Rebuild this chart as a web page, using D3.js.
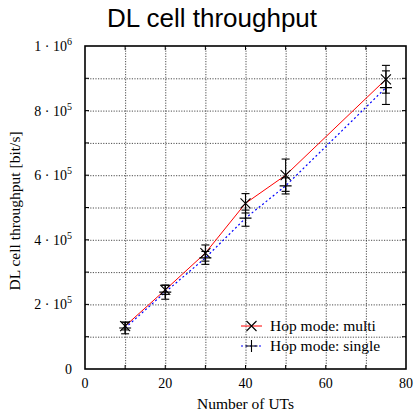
<!DOCTYPE html>
<html>
<head>
<meta charset="utf-8">
<script src="https://cdn.jsdelivr.net/npm/d3@7"></script>
<style>
  body { margin: 0; background: #fff; }
  svg { display: block; }
  .grid line { stroke: #000; stroke-width: 0.7; stroke-dasharray: 1.2 1.4; }
  .grid path { display: none; }
  text { fill: #000; }
</style>
</head>
<body>
<svg></svg>
<script>
// Data
const users = [10, 20, 30, 40, 50, 75];
const multiMean = [133000, 245000, 359000, 513000, 600000, 897000];
const multiErr = [12000, 14000, 25000, 30000, 50000, 43000];
const singleMean = [127000, 238000, 344000, 467000, 567000, 871000];
const singleErr = [18000, 22000, 20000, 25000, 25000, 52000];
const xTicks = [0, 20, 40, 60, 80];
const yTicks = [0, 200000, 400000, 600000, 800000, 1000000];

// Sizes
const W = 416, H = 413;
const margin = { t: 46, b: 44, l: 85, r: 10 };
const width = W - margin.l - margin.r;
const height = H - margin.t - margin.b;

const svg = d3.select("svg")
  .attr("width", W)
  .attr("height", H);

const g = svg.append("g")
  .attr("transform", `translate(${margin.l}, ${margin.t})`);

// Scales
const xScale = d3.scaleLinear().domain([0, 80]).range([0, width]);
const yScale = d3.scaleLinear().domain([0, 1000000]).range([height, 0]);

// Grids
g.append("g")
  .attr("class", "grid")
  .attr("transform", `translate(0, ${height})`)
  .call(d3.axisBottom(xScale).tickValues(d3.range(10, 80, 10)).tickSize(-height).tickFormat(""));

g.append("g")
  .attr("class", "grid")
  .call(d3.axisLeft(yScale).tickValues(d3.range(100000, 1000000, 100000)).tickSize(-width).tickFormat(""));

// Tick marks (inward, mirrored)
const tickLen = 4;
const frameTicks = g.append("g").attr("stroke", "#000").attr("stroke-width", 1);
d3.range(10, 80, 10).forEach(v => {
  frameTicks.append("line").attr("x1", xScale(v)).attr("x2", xScale(v)).attr("y1", height).attr("y2", height - tickLen);
  frameTicks.append("line").attr("x1", xScale(v)).attr("x2", xScale(v)).attr("y1", 0).attr("y2", tickLen);
});
d3.range(100000, 1000000, 100000).forEach(v => {
  frameTicks.append("line").attr("x1", 0).attr("x2", tickLen).attr("y1", yScale(v)).attr("y2", yScale(v));
  frameTicks.append("line").attr("x1", width).attr("x2", width - tickLen).attr("y1", yScale(v)).attr("y2", yScale(v));
});

// Frame
g.append("rect")
  .attr("width", width)
  .attr("height", height)
  .attr("fill", "none")
  .attr("stroke", "#000")
  .attr("stroke-width", 1.6);

// Tick labels
const serif = "'Liberation Serif', 'DejaVu Serif', serif";
const fs = 14;
const labelFs = 15.5;
g.selectAll(".xlab")
  .data(xTicks)
  .join("text")
    .attr("x", d => xScale(d))
    .attr("y", height + 19)
    .attr("text-anchor", "middle")
    .attr("font-family", serif)
    .attr("font-size", fs)
    .text(d => d);

yTicks.forEach(v => {
  const t = g.append("text")
    .attr("x", -13)
    .attr("y", yScale(v) + 5)
    .attr("text-anchor", "end")
    .attr("font-family", serif)
    .attr("font-size", fs);
  if (v === 0) {
    t.text("0");
  } else {
    const exp = Math.floor(Math.log10(v));
    const mant = v / Math.pow(10, exp);
    t.append("tspan").text(`${mant} · 10`);
    t.append("tspan").attr("dy", -6).attr("font-size", 10).text(exp);
  }
});

// Axis titles
svg.append("text")
  .attr("x", margin.l + width / 2)
  .attr("y", H - 4)
  .attr("text-anchor", "middle")
  .attr("font-family", serif)
  .attr("font-size", labelFs)
  .text("Number of UTs");

svg.append("text")
  .attr("transform", `translate(20, 211) rotate(-90)`)
  .attr("text-anchor", "middle")
  .attr("font-family", serif)
  .attr("font-size", labelFs)
  .text("DL cell throughput [bit/s]");

svg.append("text")
  .attr("x", 212)
  .attr("y", 27)
  .attr("text-anchor", "middle")
  .attr("font-family", "'Liberation Sans', Arial, sans-serif")
  .attr("font-size", 26)
  .text("DL cell throughput");

// Series
const line = d3.line().x(d => xScale(d[0])).y(d => yScale(d[1]));
const multi = users.map((u, i) => [u, multiMean[i], multiErr[i]]);
const single = users.map((u, i) => [u, singleMean[i], singleErr[i]]);

g.append("path")
  .datum(multi)
  .attr("d", line)
  .attr("fill", "none")
  .attr("stroke", "#ff0000")
  .attr("stroke-width", 1);

g.append("path")
  .datum(single)
  .attr("d", line)
  .attr("fill", "none")
  .attr("stroke", "#0000ff")
  .attr("stroke-width", 1.2)
  .attr("stroke-dasharray", "2 2.5");

// Error bars
const cap = 4;
function errorBars(data) {
  const eg = g.append("g").attr("stroke", "#000").attr("stroke-width", 1.1);
  data.forEach(d => {
    const x = xScale(d[0]);
    const y0 = yScale(d[1] - d[2]);
    const y1 = yScale(d[1] + d[2]);
    eg.append("line").attr("x1", x).attr("x2", x).attr("y1", y0).attr("y2", y1);
    eg.append("line").attr("x1", x - cap).attr("x2", x + cap).attr("y1", y0).attr("y2", y0);
    eg.append("line").attr("x1", x - cap).attr("x2", x + cap).attr("y1", y1).attr("y2", y1);
  });
}
errorBars(multi);
errorBars(single);

// Markers
const ms = 5;
function crossX(sel, x, y) {
  sel.append("path")
    .attr("d", `M${x - ms},${y - ms}L${x + ms},${y + ms}M${x - ms},${y + ms}L${x + ms},${y - ms}`)
    .attr("stroke", "#000").attr("stroke-width", 1.1).attr("fill", "none");
}
function plus(sel, x, y) {
  sel.append("path")
    .attr("d", `M${x - ms - 1},${y}L${x + ms + 1},${y}M${x},${y - ms - 1}L${x},${y + ms + 1}`)
    .attr("stroke", "#000").attr("stroke-width", 1.1).attr("fill", "none");
}
const mk = g.append("g");
multi.forEach(d => crossX(mk, xScale(d[0]), yScale(d[1])));
single.forEach(d => plus(mk, xScale(d[0]), yScale(d[1])));

// Legend
const legend = svg.append("g");
const legendItems = ["Hop mode: multi", "Hop mode: single"];
legendItems.forEach((name, i) => {
  const y = 326 + i * 20;
  if (i === 0) {
    legend.append("line").attr("x1", 241).attr("x2", 262).attr("y1", y).attr("y2", y)
      .attr("stroke", "#ff0000").attr("stroke-width", 1);
    crossX(legend, 251.5, y);
  } else {
    legend.append("line").attr("x1", 241).attr("x2", 262).attr("y1", y).attr("y2", y)
      .attr("stroke", "#0000ff").attr("stroke-width", 1.2).attr("stroke-dasharray", "2 2.5");
    plus(legend, 251.5, y);
  }
  legend.append("text")
    .attr("x", 270)
    .attr("y", y + 5)
    .attr("font-family", serif)
    .attr("font-size", labelFs)
    .text(name);
});
</script>
</body>
</html>
